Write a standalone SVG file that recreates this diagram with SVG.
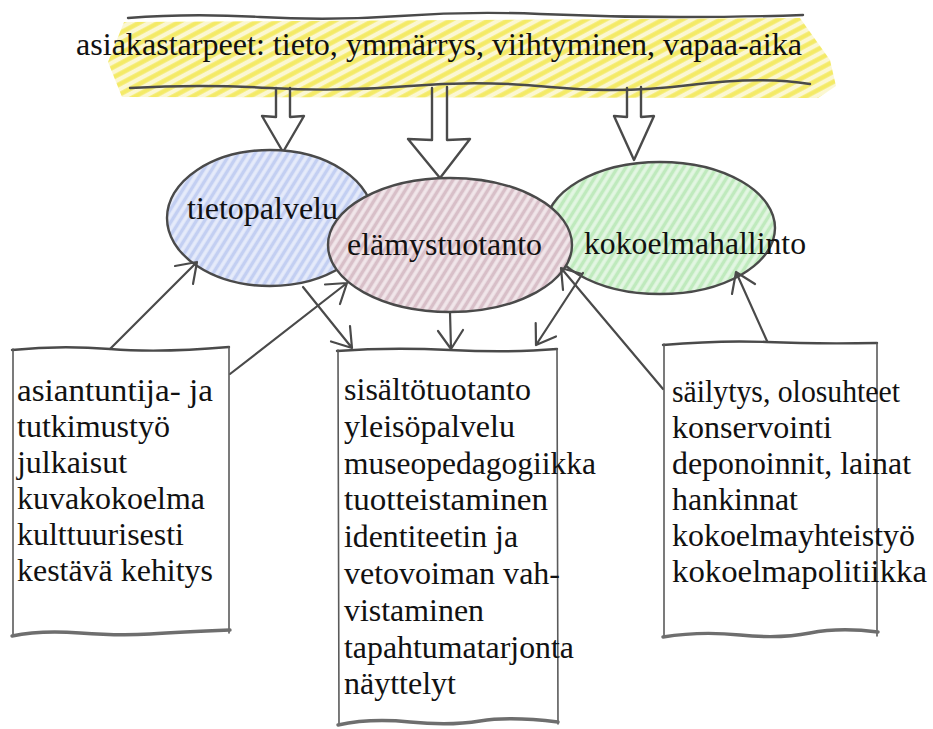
<svg xmlns="http://www.w3.org/2000/svg" width="933" height="729" viewBox="0 0 933 729">
  <style>
    .ink{fill:none;stroke:#4a4a4a;stroke-width:2.4;stroke-linecap:round;stroke-linejoin:round}
    .side{fill:none;stroke:#5a5a5a;stroke-width:1.6;stroke-linecap:round}
    .edge{fill:none;stroke:#6e6e6e;stroke-width:3.4;stroke-linecap:round;stroke-linejoin:round}
    .conn{fill:none;stroke:#4a4a4a;stroke-width:2.2;stroke-linecap:round;stroke-linejoin:round}
  </style>
  <defs>
    <!-- crayon hatching fills -->
    <pattern id="hatchYellow" width="9" height="9" patternUnits="userSpaceOnUse" patternTransform="rotate(-28)">
      <rect width="9" height="9" fill="#fbf7d2"/>
      <line x1="0" y1="4.5" x2="9" y2="4.5" stroke="#f4ea66" stroke-width="4.5"/>
    </pattern>
    <pattern id="hatchBlue" width="7" height="7" patternUnits="userSpaceOnUse" patternTransform="rotate(-58)">
      <rect width="7" height="7" fill="#e6ebfa"/>
      <line x1="0" y1="3.5" x2="7" y2="3.5" stroke="#c3cff2" stroke-width="3.5"/>
    </pattern>
    <pattern id="hatchRose" width="7" height="7" patternUnits="userSpaceOnUse" patternTransform="rotate(-58)">
      <rect width="7" height="7" fill="#f1e6ea"/>
      <line x1="0" y1="3.5" x2="7" y2="3.5" stroke="#d8bfc8" stroke-width="3.5"/>
    </pattern>
    <pattern id="hatchGreen" width="7" height="7" patternUnits="userSpaceOnUse" patternTransform="rotate(-58)">
      <rect width="7" height="7" fill="#e3f6e3"/>
      <line x1="0" y1="3.5" x2="7" y2="3.5" stroke="#bfeabd" stroke-width="3.5"/>
    </pattern>
  </defs>

  <rect width="933" height="729" fill="#ffffff"/>

  <!-- banner of customer needs -->
  <g id="banner">
    <polygon points="124,22 800,18 830,60 836,86 818,98 122,97 108,62" fill="url(#hatchYellow)"/>
    <path class="ink" d="M128,18 Q190,13 260,17 T400,16 T540,14 T680,17 T803,15"/>
    <path class="ink" d="M130,88 Q200,84 270,88 T410,86 T550,87 T690,85 T810,84"/>
    <text x="76" y="55" font-size="32" font-family="Liberation Serif" fill="#111" textLength="726" lengthAdjust="spacingAndGlyphs">asiakastarpeet: tieto, ymmärrys, viihtyminen, vapaa-aika</text>
  </g>

  <!-- hollow block arrows from the banner -->
  <g id="needs-arrows">
    <path class="ink" d="M276,88 L276,117 L262,116 L283,152 L304,116 L290,117 L290,88"/>
    <path class="ink" d="M432,88 L432,140 L408,139 L440,178 L470,139 L447,140 L447,87"/>
    <path class="ink" d="M627,88 L627,117 L614,116 L634,160 L654,116 L641,117 L641,87"/>
  </g>

  <!-- service ellipses -->
  <g id="tietopalvelu">
    <ellipse cx="270" cy="218" rx="103" ry="68" fill="url(#hatchBlue)"/>
    <ellipse class="ink" cx="270" cy="218" rx="103" ry="68"/>
    <text x="187" y="219" font-size="32" font-family="Liberation Serif" fill="#111" textLength="151" lengthAdjust="spacingAndGlyphs">tietopalvelu</text>
  </g>
  <g id="kokoelmahallinto">
    <ellipse cx="660" cy="228" rx="115" ry="66" fill="url(#hatchGreen)"/>
    <ellipse class="ink" cx="660" cy="228" rx="115" ry="66"/>
    <text x="584" y="254" font-size="32" font-family="Liberation Serif" fill="#111" textLength="222" lengthAdjust="spacingAndGlyphs">kokoelmahallinto</text>
  </g>
  <g id="elamystuotanto">
    <ellipse cx="450" cy="245" rx="122" ry="67" fill="#ffffff"/>
    <ellipse cx="450" cy="245" rx="122" ry="67" fill="url(#hatchRose)"/>
    <ellipse class="ink" cx="450" cy="245" rx="122" ry="67"/>
    <text x="347" y="255" font-size="32" font-family="Liberation Serif" fill="#111" textLength="195" lengthAdjust="spacingAndGlyphs">elämystuotanto</text>
  </g>

  <!-- connectors with open arrowheads -->
  <g id="connectors">
    <path class="conn" d="M110,349 L197,262 M175,266 L197,262 L193,284"/>
    <path class="conn" d="M230,374 L347,283 M325,284.5 L347,283 L340,304"/>
    <path class="conn" d="M303,287 L352,348 M350,326 L352,348 L331,341.5"/>
    <path class="conn" d="M450,312 L451,349 M463,330 L451,349 L438,331"/>
    <path class="conn" d="M583,273 L536,345 M556,336.5 L536,345 L535.7,323"/>
    <path class="conn" d="M663,389 L561,268 M563,290 L561,268 L582,274"/>
    <path class="conn" d="M767,341 L736,272 M732,294 L736,272 L755,284"/>
  </g>

  <!-- task boxes -->
  <g id="box-tietopalvelu">
    <path class="ink" d="M12,350 Q60,345 110,349 T229,347"/>
    <path class="side" d="M13,349 L13,634"/>
    <path class="side" d="M229,347 L229,633"/>
    <path class="edge" d="M12,636 Q40,630 80,633 T150,634 T230,630"/>
    <text x="17" y="401" font-size="32" font-family="Liberation Serif" fill="#111" textLength="196" lengthAdjust="spacingAndGlyphs">asiantuntija- ja</text>
    <text x="17" y="437" font-size="32" font-family="Liberation Serif" fill="#111" textLength="153" lengthAdjust="spacingAndGlyphs">tutkimustyö</text>
    <text x="17" y="473" font-size="32" font-family="Liberation Serif" fill="#111" textLength="110" lengthAdjust="spacingAndGlyphs">julkaisut</text>
    <text x="17" y="509" font-size="32" font-family="Liberation Serif" fill="#111" textLength="188" lengthAdjust="spacingAndGlyphs">kuvakokoelma</text>
    <text x="17" y="545" font-size="32" font-family="Liberation Serif" fill="#111" textLength="167" lengthAdjust="spacingAndGlyphs">kulttuurisesti</text>
    <text x="17" y="581" font-size="32" font-family="Liberation Serif" fill="#111" textLength="196" lengthAdjust="spacingAndGlyphs">kestävä kehitys</text>
  </g>
  <g id="box-elamystuotanto">
    <path class="ink" d="M337,351 Q390,347 450,350 T557,349"/>
    <path class="side" d="M338,350 L339,724"/>
    <path class="side" d="M557,349 L558,724"/>
    <path class="edge" d="M338,725 Q370,718 410,722 T480,721 T558,722"/>
    <text x="344" y="400" font-size="32" font-family="Liberation Serif" fill="#111" textLength="187" lengthAdjust="spacingAndGlyphs">sisältötuotanto</text>
    <text x="344" y="437" font-size="32" font-family="Liberation Serif" fill="#111" textLength="171" lengthAdjust="spacingAndGlyphs">yleisöpalvelu</text>
    <text x="344" y="474" font-size="32" font-family="Liberation Serif" fill="#111" textLength="252" lengthAdjust="spacingAndGlyphs">museopedagogiikka</text>
    <text x="344" y="510" font-size="32" font-family="Liberation Serif" fill="#111" textLength="204" lengthAdjust="spacingAndGlyphs">tuotteistaminen</text>
    <text x="344" y="547" font-size="32" font-family="Liberation Serif" fill="#111" textLength="174" lengthAdjust="spacingAndGlyphs">identiteetin ja</text>
    <text x="344" y="584" font-size="32" font-family="Liberation Serif" fill="#111" textLength="216" lengthAdjust="spacingAndGlyphs">vetovoiman vah-</text>
    <text x="344" y="621" font-size="32" font-family="Liberation Serif" fill="#111" textLength="140" lengthAdjust="spacingAndGlyphs">vistaminen</text>
    <text x="344" y="658" font-size="32" font-family="Liberation Serif" fill="#111" textLength="230" lengthAdjust="spacingAndGlyphs">tapahtumatarjonta</text>
    <text x="344" y="694" font-size="32" font-family="Liberation Serif" fill="#111" textLength="112" lengthAdjust="spacingAndGlyphs">näyttelyt</text>
  </g>
  <g id="box-kokoelmahallinto">
    <path class="ink" d="M663,345 Q720,340 767,342 T877,343"/>
    <path class="side" d="M664,344 L664,636"/>
    <path class="side" d="M877,343 L877,636"/>
    <path class="edge" d="M663,637 Q700,631 740,635 T810,633 T878,632"/>
    <text x="672" y="402" font-size="32" font-family="Liberation Serif" fill="#111" textLength="228" lengthAdjust="spacingAndGlyphs">säilytys, olosuhteet</text>
    <text x="672" y="438" font-size="32" font-family="Liberation Serif" fill="#111" textLength="160" lengthAdjust="spacingAndGlyphs">konservointi</text>
    <text x="672" y="474" font-size="32" font-family="Liberation Serif" fill="#111" textLength="239" lengthAdjust="spacingAndGlyphs">deponoinnit, lainat</text>
    <text x="672" y="510" font-size="32" font-family="Liberation Serif" fill="#111" textLength="126" lengthAdjust="spacingAndGlyphs">hankinnat</text>
    <text x="672" y="546" font-size="32" font-family="Liberation Serif" fill="#111" textLength="243" lengthAdjust="spacingAndGlyphs">kokoelmayhteistyö</text>
    <text x="672" y="582" font-size="32" font-family="Liberation Serif" fill="#111" textLength="255" lengthAdjust="spacingAndGlyphs">kokoelmapolitiikka</text>
  </g>
</svg>
